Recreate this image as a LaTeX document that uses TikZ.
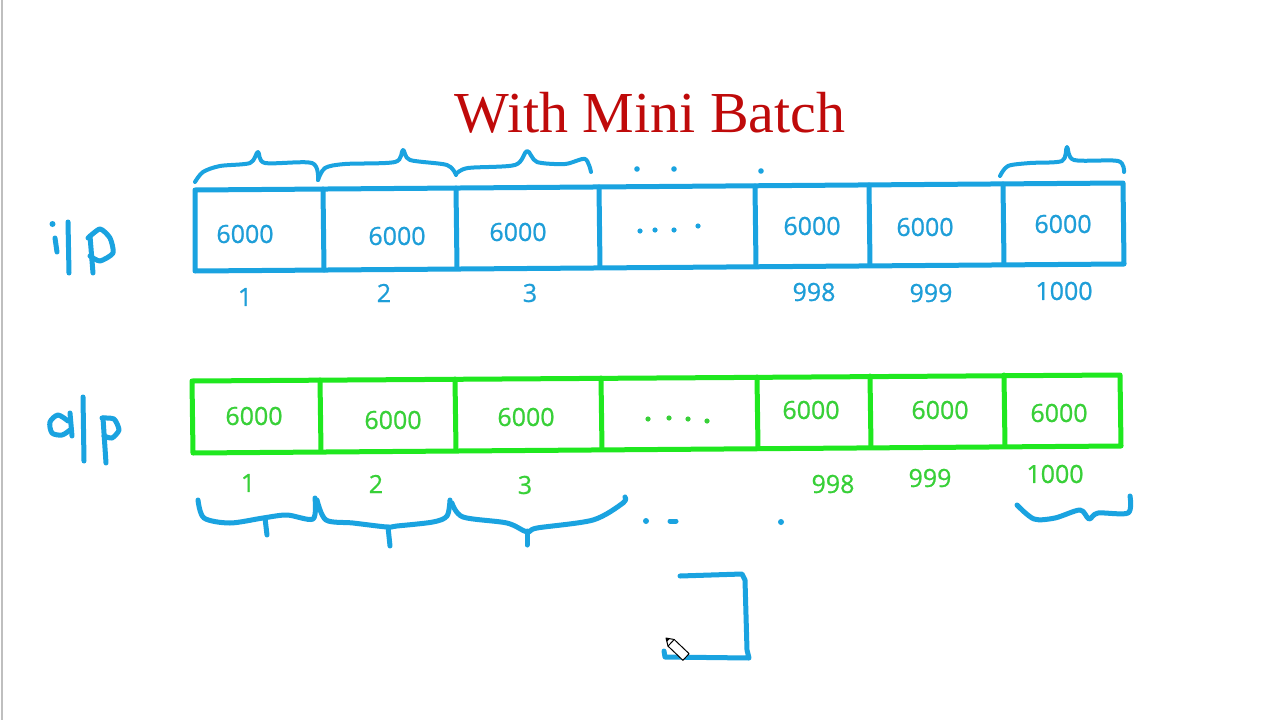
\documentclass[tikz,border=0pt]{standalone}
\usepackage{fontspec}
\setmainfont{Liberation Serif}
\newfontfamily\digfont[FakeBold=0.8]{Open Sans}
\definecolor{inkblue}{HTML}{1AA3E0}
\definecolor{txtblue}{HTML}{1E9ED8}
\definecolor{inkgreen}{HTML}{1FE81F}
\definecolor{txtgreen}{HTML}{38D038}
\definecolor{titlered}{HTML}{BF0A0A}
\begin{document}
\begin{tikzpicture}[x=1pt,y=-1pt,line cap=round,line join=round,
  blueline/.style={draw=inkblue,line width=5pt},
  greenline/.style={draw=inkgreen,line width=5pt},
  pen/.style={draw=inkblue,line width=5pt},
  bluetxt/.style={font=\digfont\fontsize{25}{25}\selectfont,text=txtblue,inner sep=0pt},
  greentxt/.style={font=\digfont\fontsize{25}{25}\selectfont,text=txtgreen,inner sep=0pt},
  bdot/.style={fill=inkblue,draw=none},
  gdot/.style={fill=txtgreen,draw=none}]
\useasboundingbox (0,0) rectangle (1280,720);
\fill[white] (0,0) rectangle (1280,720);
\draw[black!25,line width=1.5pt] (2,0) -- (2,720);

% title
\node[text=titlered,font=\fontsize{58}{58}\selectfont,inner sep=0pt] (title) at (650,113) {With Mini Batch};

% input row
\draw[blueline] (195,190) -- (1123,183) -- (1124,264) -- (195,271) -- cycle;
\draw[blueline] (323,189) -- (324,270);
\draw[blueline] (456,188) -- (457,268);
\draw[blueline] (599,187) -- (600,267);
\draw[blueline] (755,186) -- (756,266);
\draw[blueline] (869,185) -- (870,265);
\draw[blueline] (1003,184) -- (1004,264);

\node[bluetxt] (i1) at (245,234) {6000};
\node[bluetxt] (i2) at (397,236) {6000};
\node[bluetxt] (i3) at (518,232) {6000};
\foreach \p in {(640,231),(655,230),(674,230),(698,226)} \fill[bdot] \p circle (2.6);
\node[bluetxt] (i998) at (812,226) {6000};
\node[bluetxt] (i999) at (925,227) {6000};
\node[bluetxt] (i1000) at (1063,224) {6000};

\node[bluetxt] (ni1) at (245,297) {1};
\node[bluetxt] (ni2) at (384,293) {2};
\node[bluetxt] (ni3) at (530,293) {3};
\node[bluetxt] (ni998) at (814,292) {998};
\node[bluetxt] (ni999) at (931,293) {999};
\node[bluetxt] (ni1000) at (1064,291) {1000};

% top braces
\draw[pen,line width=4pt] plot[smooth,tension=0.5] coordinates {(195,182) (203,172) (220,166) (250,163) (258,152) (265,163) (312,163) (318,180)};
\draw[pen,line width=4pt] plot[smooth,tension=0.5] coordinates {(318,180) (325,168) (345,164) (395,162) (403,150) (410,160) (447,165) (456,175)};
\draw[pen,line width=4pt] plot[smooth,tension=0.5] coordinates {(456,174) (468,168) (515,165) (527,151) (537,162) (565,164) (585,159) (591,172)};
\foreach \p in {(637,169),(674,169),(761,171)} \fill[bdot] \p circle (2.8);
\draw[pen,line width=4pt] plot[smooth,tension=0.5] coordinates {(1000,176) (1008,166) (1030,163) (1062,161) (1067,147) (1074,160) (1118,161) (1124,172)};

% output row
\draw[greenline] (192,381) -- (1120,375) -- (1121,446) -- (193,453) -- cycle;
\draw[greenline] (320,380) -- (321,451);
\draw[greenline] (455,379) -- (456,450);
\draw[greenline] (601,378) -- (602,449);
\draw[greenline] (757,377) -- (758,448);
\draw[greenline] (870,376) -- (871,447);
\draw[greenline] (1004,375) -- (1005,446);

\node[greentxt] (o1) at (254,416) {6000};
\node[greentxt] (o2) at (393,420) {6000};
\node[greentxt] (o3) at (526,417) {6000};
\foreach \p in {(648,419),(669,418),(688,419),(707,421)} \fill[gdot] \p circle (2.6);
\node[greentxt] (o998) at (811,410) {6000};
\node[greentxt] (o999) at (940,410) {6000};
\node[greentxt] (o1000) at (1059,413) {6000};

\node[greentxt] (no1) at (248,483) {1};
\node[greentxt] (no2) at (376,484) {2};
\node[greentxt] (no3) at (525,485) {3};
\node[greentxt] (no998) at (833,484) {998};
\node[greentxt] (no999) at (930,478) {999};
\node[greentxt] (no1000) at (1055,474) {1000};

% bottom braces
\draw[pen] plot[smooth,tension=0.5] coordinates {(198,500) (204,518) (230,523) (263,518) (287,515) (313,519) (315,498)};
\draw[pen] (265,518) -- (267,535);
\draw[pen] plot[smooth,tension=0.5] coordinates {(317,500) (326,520) (353,523) (387,527) (397,526) (433,522) (447,516) (450,500)};
\draw[pen] (388,527) -- (390,546);
\draw[pen] plot[smooth,tension=0.5] coordinates {(452,503) (463,517) (507,523) (527,532) (537,528) (593,520) (623,503) (625,497)};
\draw[pen] (527,531) -- (527,545);
\fill[bdot] (646,521) circle (3);
\draw[pen] (670,521) -- (676,521);
\fill[bdot] (781,522) circle (3);
\draw[pen] plot[smooth,tension=0.5] coordinates {(1017,505) (1034,519) (1055,518) (1080,510) (1089,519) (1098,513) (1128,513) (1130,496)};

% lower bracket
\draw[pen] (680,576) -- (742,574) -- (745,580) -- (747,650) -- (749,658) -- (665,657) -- (664,651);

% pencil cursor
\draw[black,line width=1pt,fill=white] (666,638) -- (668,646.1) -- (682.9,660.3) -- (689.1,653.7) -- (674.2,639.5) -- cycle;
\draw[black,line width=1pt] (668,646.1) -- (674.2,639.5);
\fill[black] (666,638) -- (667,641.5) -- (669.5,639) -- cycle;

% left labels
\fill[bdot] (52.5,224) circle (3);
\draw[pen] (55,238) -- (57,252);
\draw[pen] (68,222) -- (69,273);
\draw[pen] (90,236) -- (93,273);
\draw[pen] plot[smooth,tension=0.4] coordinates {(88,238) (100,229) (110,238) (113,253) (100,261) (90,256)};

\draw[pen] plot[smooth,tension=0.5] coordinates {(68,421) (58,415) (50,422) (52,433) (62,435) (70,430)};
\draw[pen] (70,413) -- (72,436);
\draw[pen] (83,397) -- (84,461);
\draw[pen] (103,418) -- (106,463);
\draw[pen] plot[smooth,tension=0.4] coordinates {(102,418) (114,419) (119,430) (112,438) (104,436)};
\end{tikzpicture}
\end{document}
